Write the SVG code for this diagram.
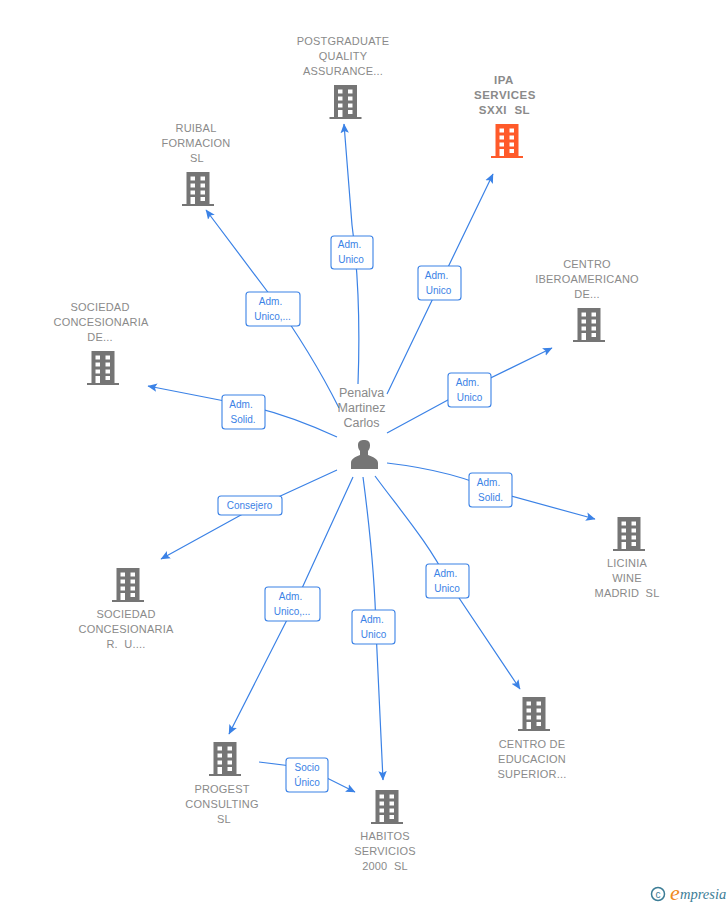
<svg xmlns="http://www.w3.org/2000/svg" xmlns:xlink="http://www.w3.org/1999/xlink" width="728" height="905" viewBox="0 0 728 905">
<style>
text{font-family:"Liberation Sans",Arial,sans-serif}
.n{font-size:11px;fill:#8a8a8a;text-anchor:middle;letter-spacing:.2px}
.b{font-weight:bold;font-size:11.500px;letter-spacing:.5px}
.p{font-size:12.500px;fill:#8a8a8a;text-anchor:middle}
.l{font-size:10px;fill:#3b82e6;text-anchor:middle}
.c{fill:none;stroke:#3b82e6;stroke-width:1.2}
.box{fill:#fff;stroke:#3b82e6;stroke-width:1.1}
</style>
<defs>
<marker id="a" markerWidth="11" markerHeight="10" refX="9" refY="5" orient="auto" markerUnits="userSpaceOnUse"><path d="M0 .8L9.500 5L0 9.200L2 5Z" fill="#3b82e6"/></marker>
<g id="bld"><path fill-rule="evenodd" d="M-11.500 0H11.500V32H16V34H-16V32H-11.500ZM-7.500 4.500V8.500H-3V4.500ZM2.500 4.500V8.500H7V4.500ZM-7.500 11.500V15.500H-3V11.500ZM2.500 11.500V15.500H7V11.500ZM-7.500 18.500V22.500H-3V18.500ZM2.500 18.500V22.500H7V18.500ZM-7.500 25V32H-3V25ZM2.500 25V29H7V25Z"/></g>
</defs>
<g id="connectors">
<path class="c" marker-end="url(#a)" d="M358 384C360 330 358 270 352 225Q348 175 344 124"/>
<path class="c" marker-end="url(#a)" d="M387 394L437 290L493 174"/>
<path class="c" marker-end="url(#a)" d="M339 408C320 370 295 330 270 295L206 210"/>
<path class="c" marker-end="url(#a)" d="M337 437C300 420 270 410 240 404L148 386"/>
<path class="c" marker-end="url(#a)" d="M387 433L470 388L552 348"/>
<path class="c" marker-end="url(#a)" d="M387 463C430 468 470 478 500 493L595 519"/>
<path class="c" marker-end="url(#a)" d="M337 470L250 510L161 559"/>
<path class="c" marker-end="url(#a)" d="M353 477L292 610L229 734"/>
<path class="c" marker-end="url(#a)" d="M363 477C370 530 375 580 376 630L383 780"/>
<path class="c" marker-end="url(#a)" d="M375 476C400 510 430 545 447 580L520 689"/>
<path class="c" marker-end="url(#a)" d="M259 762L307 768L355 792"/>
</g>
<g id="labels">
<g><rect class="box" x="331" y="236" width="42" height="33" rx="3"/><text class="l" x="349.500" y="248">Adm.</text><text class="l" x="351" y="263">Unico</text></g>
<g><rect class="box" x="418" y="266" width="43" height="34" rx="3"/><text class="l" x="436.500" y="279">Adm.</text><text class="l" x="438.500" y="294">Unico</text></g>
<g><rect class="box" x="246" y="292" width="54" height="34" rx="3"/><text class="l" x="270.500" y="305">Adm.</text><text class="l" x="272.500" y="320">Unico,...</text></g>
<g><rect class="box" x="222" y="395" width="43" height="34" rx="3"/><text class="l" x="241" y="408">Adm.</text><text class="l" x="243" y="423">Solid.</text></g>
<g><rect class="box" x="448" y="373" width="43" height="34" rx="3"/><text class="l" x="467.500" y="386">Adm.</text><text class="l" x="469.500" y="401">Unico</text></g>
<g><rect class="box" x="469" y="473" width="43" height="34" rx="3"/><text class="l" x="488.500" y="486">Adm.</text><text class="l" x="490.500" y="501">Solid.</text></g>
<g><rect class="box" x="218" y="496" width="64" height="19" rx="3"/><text class="l" x="249.500" y="509">Consejero</text></g>
<g><rect class="box" x="265" y="587" width="55" height="34" rx="3"/><text class="l" x="290.500" y="600">Adm.</text><text class="l" x="292" y="615">Unico,...</text></g>
<g><rect class="box" x="352" y="610" width="43" height="34" rx="3"/><text class="l" x="372" y="623">Adm.</text><text class="l" x="373.500" y="638">Unico</text></g>
<g><rect class="box" x="426" y="564" width="43" height="34" rx="3"/><text class="l" x="445.500" y="577">Adm.</text><text class="l" x="447" y="592">Unico</text></g>
<g><rect class="box" x="286" y="758" width="42" height="34" rx="3"/><text class="l" x="307" y="771">Socio</text><text class="l" x="307" y="786">Único</text></g>
</g>
<g id="person"><path fill="#757575" d="M351 469V463C351 459 355 457 360 455V451C358 449 358 446 358 445C358 441 361 440 364 440C367 440 370 441 370 445C370 446 370 449 368 451V455C373 457 378 459 378 463V469Z"/><text class="p" x="361.500" y="397">Penalva</text><text class="p" x="361.500" y="412">Martinez</text><text class="p" x="361.500" y="427">Carlos</text></g>
<g id="postgraduate"><use xlink:href="#bld" href="#bld" x="345.500" y="85" fill="#757575"/><text class="n" x="343" y="45">POSTGRADUATE</text><text class="n" x="343" y="60">QUALITY</text><text class="n" x="343" y="75">ASSURANCE...</text></g>
<g id="ipa"><use href="#bld" x="507" y="124" fill="#ff5a2a"/><text class="n b" x="504" y="84">IPA</text><text class="n b" x="505" y="99" xml:space="preserve">SERVICES</text><text class="n b" x="504.500" y="114" xml:space="preserve">SXXI  SL</text></g>
<g id="ruibal"><use href="#bld" x="198" y="172" fill="#757575"/><text class="n" x="196" y="132">RUIBAL</text><text class="n" x="196" y="147">FORMACION</text><text class="n" x="197" y="162">SL</text></g>
<g id="sociedad-de"><use href="#bld" x="103" y="351" fill="#757575"/><text class="n" x="100" y="311">SOCIEDAD</text><text class="n" x="101" y="326">CONCESIONARIA</text><text class="n" x="100" y="341">DE...</text></g>
<g id="centro-ibero"><use href="#bld" x="589" y="308" fill="#757575"/><text class="n" x="587" y="268">CENTRO</text><text class="n" x="587" y="283">IBEROAMERICANO</text><text class="n" x="587" y="298">DE...</text></g>
<g id="licinia"><use href="#bld" x="629" y="517" fill="#757575"/><text class="n" x="627" y="567">LICINIA</text><text class="n" x="627" y="582">WINE</text><text class="n" x="627" y="597" xml:space="preserve">MADRID  SL</text></g>
<g id="sociedad-ru"><use href="#bld" x="128" y="568" fill="#757575"/><text class="n" x="126" y="618">SOCIEDAD</text><text class="n" x="126" y="633">CONCESIONARIA</text><text class="n" x="126" y="648" xml:space="preserve">R.  U....</text></g>
<g id="centro-edu"><use href="#bld" x="534" y="697" fill="#757575"/><text class="n" x="532" y="748">CENTRO DE</text><text class="n" x="532" y="763">EDUCACION</text><text class="n" x="532" y="778">SUPERIOR...</text></g>
<g id="progest"><use href="#bld" x="225" y="742" fill="#757575"/><text class="n" x="222" y="793">PROGEST</text><text class="n" x="222" y="808">CONSULTING</text><text class="n" x="224" y="823">SL</text></g>
<g id="habitos"><use href="#bld" x="387" y="790" fill="#757575"/><text class="n" x="385" y="840">HABITOS</text><text class="n" x="385" y="855">SERVICIOS</text><text class="n" x="385" y="870" xml:space="preserve">2000  SL</text></g>
<g id="logo"><circle cx="658" cy="894" r="6.500" fill="none" stroke="#3c7d96" stroke-width="1.500"/><text x="658" y="897.500" font-size="10" fill="#3c7d96" text-anchor="middle">c</text><text x="670" y="900" font-size="22" fill="#f08a1d" style="font-family:'Liberation Serif',serif;font-style:italic">e</text><text x="680" y="899" font-size="14.500" fill="#3c7d96" style="font-family:'Liberation Serif',serif;font-style:italic">mpresia</text></g>
</svg>
